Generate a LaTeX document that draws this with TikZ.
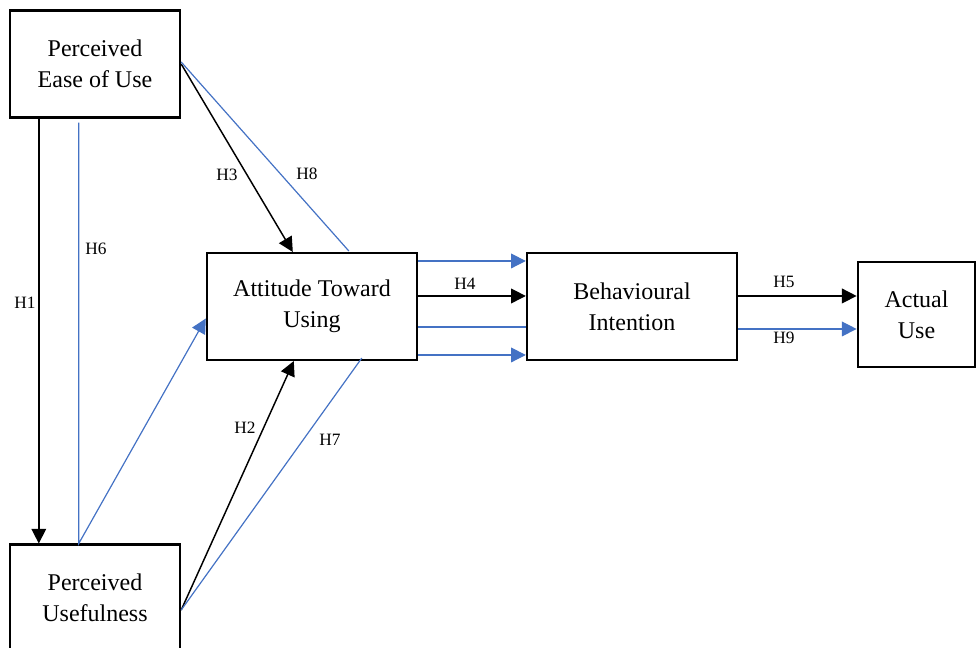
\documentclass[tikz,border=0pt]{standalone}
\usepackage{fontspec}
\setmainfont{Liberation Serif}
\usetikzlibrary{arrows.meta,calc}
\definecolor{hypblue}{RGB}{68,114,196}
\tikzstyle{construct}=[draw, line width=1.8pt, align=center, inner sep=0pt,
  font=\fontsize{18}{23.5}\selectfont]
\tikzstyle{smallbox}=[construct, minimum width=127.5pt, minimum height=80pt]
\tikzstyle{widebox}=[construct, minimum width=157.5pt, minimum height=80pt]
\tikzstyle{hyp}=[inner sep=0pt, font=\fontsize{13}{15}\selectfont]
\tikzstyle{line}=[draw, line width=1.1pt, -{Triangle[length=11pt,width=11pt]}]
\tikzstyle{bline}=[draw, line width=0.9pt, color=hypblue]
\tikzstyle{barrow}=[bline, -{Triangle[length=11pt,width=11pt]}]

\begin{document}
\begin{tikzpicture}[x=0.75pt, y=-0.75pt]
  \useasboundingbox (0,0) rectangle (977,647);

  % Constructs
  \node (peou) [smallbox] at (95,64) {Perceived\\Ease of Use};
  \node (pu) [smallbox] at (95,598) {Perceived\\Usefulness};
  \node (atu) [widebox] at (312,306.5) {Attitude Toward\\Using};
  \node (bi) [widebox] at (632,306.5) {Behavioural\\Intention};
  \node (au) [construct, minimum width=88pt, minimum height=78.5pt]
    at (916.5,314.5) {Actual\\Use};

  % Hypothesised paths
  \path [line] ($(peou.south west)+(30,0)$) -- ($(pu.north west)+(30,0)$);
  \path [barrow] ($(peou.south west)+(70,4)$) -- ($(pu.north west)+(70,0)$)
    -- ($(atu.west)+(0,12)$);
  \path [line] (peou.east) -- ($(atu.north west)+(87,0)$);
  \path [bline] ($(peou.east)+(0,-2)$) -- ($(atu.north west)+(143,-1)$);
  \path [line] ($(pu.east)+(0,12)$) -- ($(atu.south west)+(88,0)$);
  \path [bline] ($(pu.east)+(0,12)$) -- ($(atu.south west)+(156,-3)$);

  \path [barrow] ($(atu.north east)+(0,9)$) -- ($(bi.north west)+(0,9)$);
  \path [line] ($(atu.north east)+(0,44)$) -- ($(bi.north west)+(0,44)$);
  \path [bline] ($(atu.north east)+(0,75)$) -- ($(bi.north west)+(0,75)$);
  \path [barrow] ($(atu.north east)+(0,103)$) -- ($(bi.north west)+(0,103)$);

  \path [line] ($(bi.north east)+(0,44)$) -- ($(au.north west)+(0,35)$);
  \path [barrow] ($(bi.north east)+(0,77)$) -- ($(au.north west)+(0,68)$);

  % Labels
  \node (h1) [hyp] at (25,303) {H1};
  \node (h2) [hyp] at (245,428) {H2};
  \node (h3) [hyp] at (227,175) {H3};
  \node (h4) [hyp] at (465,284) {H4};
  \node (h5) [hyp] at (784,282) {H5};
  \node (h6) [hyp] at (96,249) {H6};
  \node (h7) [hyp] at (330,440) {H7};
  \node (h8) [hyp] at (307,174) {H8};
  \node (h9) [hyp] at (784,338) {H9};
\end{tikzpicture}
\end{document}
